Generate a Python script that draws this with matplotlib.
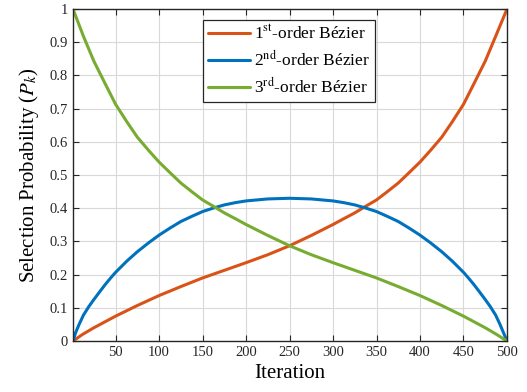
import matplotlib
matplotlib.use('Agg')
import matplotlib.pyplot as plt
from matplotlib.ticker import FuncFormatter

plt.rcParams.update({
    'font.family': 'serif', 'font.serif': ['Liberation Serif', 'DejaVu Serif'],
    'mathtext.fontset': 'stix',
    'axes.linewidth': 1.0,
    'xtick.direction': 'in', 'ytick.direction': 'in',
    'xtick.top': True, 'ytick.right': True,
    'xtick.major.size': 4, 'ytick.major.size': 4,
})

# Selection probability over iterations for each Bezier order
it_first = [1, 12, 25, 50, 75, 100, 125, 150, 175, 200, 225, 250, 275, 300, 312, 325,
            337, 350, 362, 375, 387, 400, 412, 425, 437, 450, 462, 475, 487, 500]
p_first = [0.0, 0.020, 0.040, 0.075, 0.107, 0.137, 0.164, 0.190, 0.213, 0.236, 0.260, 0.287,
           0.318, 0.351, 0.368, 0.386, 0.405, 0.425, 0.449, 0.476, 0.506, 0.539, 0.574,
           0.614, 0.660, 0.713, 0.775, 0.843, 0.918, 1.0]

it_second = [1, 4, 8, 13, 19, 25, 31, 38, 44, 50, 63, 75, 88, 100, 113, 125, 138, 150,
             163, 175, 188, 200, 225, 250, 275, 300, 312, 325, 337, 350, 362, 375, 387,
             400, 412, 425, 437, 450, 456, 462, 469, 475, 481, 487, 492, 496, 500]
p_second = [0.0, 0.025, 0.050, 0.078, 0.103, 0.125, 0.146, 0.170, 0.189, 0.207, 0.241,
            0.269, 0.296, 0.319, 0.341, 0.360, 0.376, 0.390, 0.401, 0.410, 0.417, 0.422,
            0.428, 0.430, 0.428, 0.422, 0.417, 0.410, 0.401, 0.390, 0.376, 0.360, 0.341,
            0.319, 0.296, 0.269, 0.241, 0.207, 0.189, 0.170, 0.146, 0.125, 0.103, 0.078,
            0.050, 0.025, 0.0]

it_third = [1, 13, 25, 38, 50, 63, 75, 88, 100, 113, 125, 138, 150, 163, 175, 188, 200,
            225, 250, 275, 300, 325, 350, 375, 400, 425, 450, 475, 488, 500]
p_third = [1.0, 0.918, 0.843, 0.775, 0.713, 0.660, 0.614, 0.574, 0.539, 0.506, 0.476,
           0.449, 0.425, 0.405, 0.386, 0.368, 0.351, 0.318, 0.287, 0.260, 0.236, 0.213,
           0.190, 0.164, 0.137, 0.107, 0.075, 0.040, 0.020, 0.0]

labels = [r'1$^{\mathrm{st}}$-order Bézier',
          r'2$^{\mathrm{nd}}$-order Bézier',
          r'3$^{\mathrm{rd}}$-order Bézier']
colors = ['#D95319', '#0072BD', '#77AC30']

fig = plt.figure(figsize=(5.27, 3.92), dpi=100)
ax = fig.add_axes([0.1385, 0.130, 0.8235, 0.847])

series = [(it_first, p_first), (it_second, p_second), (it_third, p_third)]
for (xs, ys), lab, c in zip(series, labels, colors):
    ax.plot(xs, ys, color=c, linewidth=2.2, label=lab,
            solid_capstyle='round', solid_joinstyle='round')

ax.set_xlim(1, 500)
ax.set_ylim(0, 1)
ax.set_xticks(range(50, 501, 50))
ax.set_yticks([i / 10 for i in range(11)])
ax.yaxis.set_major_formatter(FuncFormatter(lambda v, _: f'{v:g}'))
ax.tick_params(labelsize=10.5, colors='#262626', width=0.8)
for s in ax.spines.values():
    s.set_color('#262626')
ax.grid(True, color='#d9d9d9', linewidth=0.8)
ax.set_axisbelow(True)

ax.set_xlabel('Iteration', fontsize=15, labelpad=4)
ax.set_ylabel(r'Selection Probability ($P_k$)', fontsize=15, labelpad=6)

leg = ax.legend(loc='upper left', bbox_to_anchor=(0.299, 0.967), borderaxespad=0,
                fontsize=12.5, fancybox=False, framealpha=1, edgecolor='#262626',
                handlelength=2.4, handletextpad=0.25, labelspacing=0.4,
                borderpad=0.3)
leg.get_frame().set_linewidth(0.9)

fig.savefig('out.png', dpi=100, facecolor='white')
